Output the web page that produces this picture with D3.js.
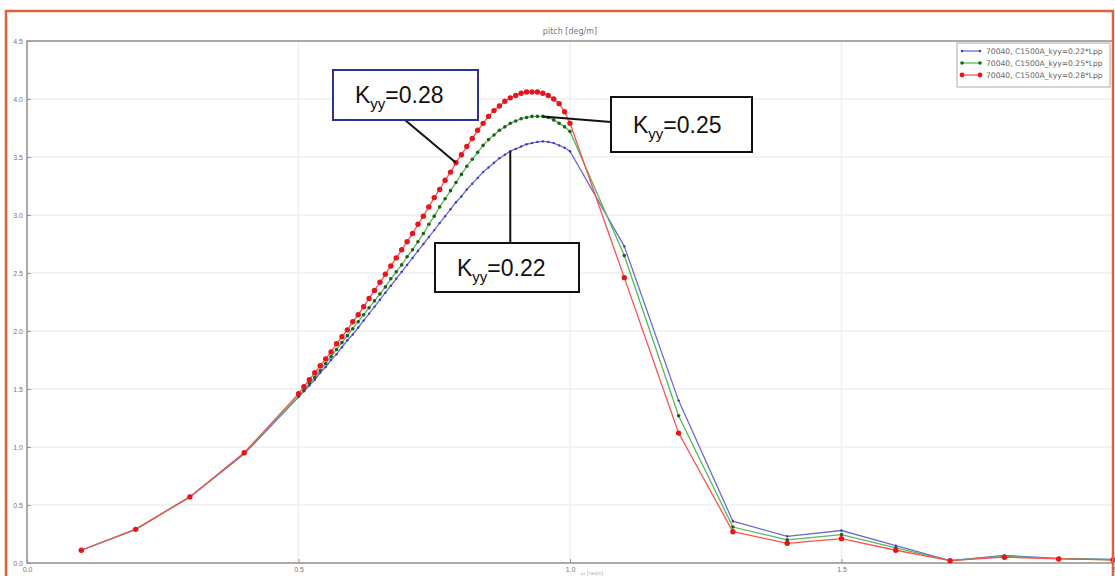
<!doctype html>
<html lang="en">
<head>
<meta charset="utf-8" />
<title>pitch [deg/m]</title>
<script src="https://d3js.org/d3.v7.min.js"></script>
<style>
  body { margin: 0; background: #fff; }
  svg { display: block; font-family: "DejaVu Sans", sans-serif; }
</style>
</head>
<body>
<div id="chart"></div>
<script>
// x positions of the computed points
var xs = [0.1, 0.2, 0.3, 0.4,
  0.50, 0.51, 0.52, 0.53, 0.54, 0.55, 0.56, 0.57, 0.58, 0.59,
  0.60, 0.61, 0.62, 0.63, 0.64, 0.65, 0.66, 0.67, 0.68, 0.69,
  0.70, 0.71, 0.72, 0.73, 0.74, 0.75, 0.76, 0.77, 0.78, 0.79,
  0.80, 0.81, 0.82, 0.83, 0.84, 0.85, 0.86, 0.87, 0.88, 0.89,
  0.90, 0.91, 0.92, 0.93, 0.94, 0.95, 0.96, 0.97, 0.98, 0.99, 1.00,
  1.1, 1.2, 1.3, 1.4, 1.5, 1.6, 1.7, 1.8, 1.9, 2.0];

// kyy = 0.22*Lpp
var blue = [0.11, 0.29, 0.57, 0.94,
  1.43, 1.48, 1.53, 1.58, 1.64, 1.69, 1.75, 1.80, 1.86, 1.92,
  1.97, 2.03, 2.09, 2.15, 2.21, 2.27, 2.33, 2.39, 2.45, 2.51,
  2.57, 2.63, 2.69, 2.75, 2.81, 2.87, 2.93, 2.99, 3.05, 3.11,
  3.16, 3.22, 3.27, 3.32, 3.37, 3.41, 3.45, 3.49, 3.52, 3.55,
  3.57, 3.59, 3.61, 3.62, 3.63, 3.635, 3.63, 3.62, 3.60, 3.58, 3.55,
  2.73, 1.40, 0.36, 0.23, 0.28, 0.15, 0.02, 0.065, 0.04, 0.03];

// kyy = 0.25*Lpp
var green = [0.11, 0.29, 0.57, 0.95,
  1.44, 1.49, 1.55, 1.60, 1.66, 1.72, 1.78, 1.84, 1.90, 1.96,
  2.02, 2.08, 2.14, 2.20, 2.26, 2.32, 2.38, 2.45, 2.51, 2.57,
  2.64, 2.70, 2.77, 2.84, 2.92, 2.99, 3.07, 3.14, 3.21, 3.28,
  3.35, 3.42, 3.48, 3.54, 3.60, 3.65, 3.69, 3.73, 3.76, 3.79,
  3.81, 3.83, 3.84, 3.85, 3.85, 3.85, 3.84, 3.82, 3.79, 3.76, 3.72,
  2.65, 1.27, 0.31, 0.20, 0.245, 0.13, 0.02, 0.057, 0.038, 0.028];

// kyy = 0.28*Lpp
var red = [0.11, 0.29, 0.57, 0.95,
  1.46, 1.52, 1.58, 1.64, 1.70, 1.76, 1.82, 1.89, 1.95, 2.01,
  2.08, 2.14, 2.21, 2.28, 2.35, 2.42, 2.49, 2.56, 2.63, 2.70,
  2.77, 2.84, 2.92, 2.99, 3.07, 3.15, 3.22, 3.30, 3.37, 3.45,
  3.52, 3.59, 3.66, 3.73, 3.79, 3.85, 3.90, 3.94, 3.98, 4.01,
  4.03, 4.05, 4.06, 4.06, 4.06, 4.05, 4.03, 4.00, 3.96, 3.89, 3.79,
  2.46, 1.12, 0.27, 0.17, 0.21, 0.11, 0.02, 0.05, 0.035, 0.027];

var xTicks = [0.0, 0.5, 1.0, 1.5, 2.0];
var xTickLabels = ["0.0", "0.5", "1.0", "1.5", "2"];
var yTicks = [0.0, 0.5, 1.0, 1.5, 2.0, 2.5, 3.0, 3.5, 4.0, 4.5];
var legendLabels = ["70040, C1500A_kyy=0.22*Lpp", "70040, C1500A_kyy=0.25*Lpp", "70040, C1500A_kyy=0.28*Lpp"];

var width = 1115, height = 576,
    margin = { top: 41, right: 2, bottom: 13, left: 27 };

var svg = d3.select("#chart").append("svg")
    .attr("width", width)
    .attr("height", height);

var x = d3.scaleLinear().domain([0, 2]).range([margin.left, width - margin.right]);
var y = d3.scaleLinear().domain([0, 4.5]).range([height - margin.bottom, margin.top]);

// grid
svg.append("g").selectAll("line.gy")
    .data(yTicks.slice(1, -1)).enter().append("line")
    .attr("x1", margin.left).attr("x2", width - margin.right)
    .attr("y1", d => y(d)).attr("y2", d => y(d))
    .style("stroke", "#efefef").style("stroke-width", 1.5);
svg.append("g").selectAll("line.gx")
    .data(xTicks.slice(1, -1)).enter().append("line")
    .attr("y1", margin.top).attr("y2", height - margin.bottom)
    .attr("x1", d => x(d)).attr("x2", d => x(d))
    .style("stroke", "#efefef").style("stroke-width", 1.5);

// axes
var xAxis = d3.axisBottom(x).tickValues(xTicks).tickSize(-4).tickSizeOuter(0)
    .tickFormat((d, i) => xTickLabels[i]);
var yAxis = d3.axisLeft(y).tickValues(yTicks).tickSize(-4).tickSizeOuter(0)
    .tickFormat(d3.format(".1f"));

var gx = svg.append("g")
    .attr("transform", `translate(0,${height - margin.bottom})`)
    .call(xAxis);
var gy = svg.append("g")
    .attr("transform", `translate(${margin.left},0)`)
    .call(yAxis);
[gx, gy].forEach(g => {
    g.select(".domain").remove();
    g.selectAll("line").style("stroke", "#999");
    g.selectAll("text").style("fill", "#777").style("font-size", "7px");
});
gx.selectAll("text").attr("dy", "0.9em");
gy.selectAll("text").attr("x", -4);

// frame
svg.append("rect")
    .attr("x", margin.left).attr("y", margin.top)
    .attr("width", width - margin.right - margin.left)
    .attr("height", height - margin.bottom - margin.top)
    .style("fill", "none").style("stroke", "#9a9494").style("stroke-width", 1.6);

// title and x label
svg.append("text")
    .attr("x", 570).attr("y", 34)
    .attr("text-anchor", "middle")
    .style("font-size", "8px").style("fill", "#777")
    .text("pitch [deg/m]");
svg.append("text")
    .attr("x", x(1.0) + 22).attr("y", 575)
    .attr("text-anchor", "middle")
    .style("font-size", "5px").style("fill", "#aaa")
    .text("ω [rad/s]");

// series
var series = [
    { key: "blue", values: blue, line: "#6b6bd8", mark: "#3a3ab8", r: 1.2 },
    { key: "green", values: green, line: "#55bb55", mark: "#1f5f1f", r: 1.8 },
    { key: "red", values: red, line: "#ff5050", mark: "#e8141c", r: 2.7 }
];

var line = d3.line().x(d => x(d[0])).y(d => y(d[1]));

series.forEach(s => {
    var pts = xs.map((v, i) => [v, s.values[i]]);
    svg.append("path")
        .datum(pts)
        .attr("d", line)
        .style("fill", "none")
        .style("stroke", s.line)
        .style("stroke-width", 1.3);
    svg.append("g").selectAll("circle")
        .data(pts).enter().append("circle")
        .attr("cx", d => x(d[0]))
        .attr("cy", d => y(d[1]))
        .attr("r", s.r)
        .style("fill", s.mark);
});

// legend
var lg = svg.append("g").attr("transform", "translate(957,43)");
lg.append("rect").attr("width", 153).attr("height", 44)
    .style("fill", "#fff").style("stroke", "#aaa").style("stroke-width", 1);
series.forEach((s, i) => {
    var ly = 8 + i * 12;
    lg.append("line").attr("x1", 5).attr("x2", 23).attr("y1", ly).attr("y2", ly)
        .style("stroke", s.line).style("stroke-width", 1.3);
    lg.selectAll(null).data([5, 23]).enter().append("circle")
        .attr("cx", d => d).attr("cy", ly).attr("r", Math.min(s.r, 2.4))
        .style("fill", s.mark);
    lg.append("text").attr("x", 29).attr("y", ly + 2.5)
        .style("font-size", "7.6px").style("fill", "#666")
        .text(legendLabels[i]);
});

// callouts
function callout(bx, by, bw, bh, stroke, val, from, to) {
    svg.append("line")
        .attr("x1", from[0]).attr("y1", from[1])
        .attr("x2", to[0]).attr("y2", to[1])
        .style("stroke", "#111").style("stroke-width", 2);
    svg.append("rect")
        .attr("x", bx).attr("y", by).attr("width", bw).attr("height", bh)
        .style("fill", "#fff").style("stroke", stroke).style("stroke-width", 2);
    var t = svg.append("text")
        .attr("x", bx + 22).attr("y", by + bh / 2 + 8)
        .style("font-family", "'Liberation Sans', Arial, sans-serif")
        .style("font-size", "23px").style("fill", "#111");
    t.append("tspan").text("K");
    t.append("tspan").attr("dy", 6).style("font-size", "15px").text("yy");
    t.append("tspan").attr("dy", -6).text("=" + val);
}

callout(333, 70, 145, 50, "#2e3192", "0.28",
    [405, 120], [x(xs[33]), y(red[33])]);
callout(611, 97, 141, 55, "#111", "0.25",
    [x(xs[49]), y(green[49])], [611, 122]);
callout(435, 243, 144, 49, "#111", "0.22",
    [x(xs[43]), y(blue[43])], [x(xs[43]), 243]);

// orange page border
svg.append("path")
    .attr("d", "M6,576 V11 H1113 V576")
    .style("fill", "none").style("stroke", "#e2603a").style("stroke-width", 2.5);
</script>
</body>
</html>
